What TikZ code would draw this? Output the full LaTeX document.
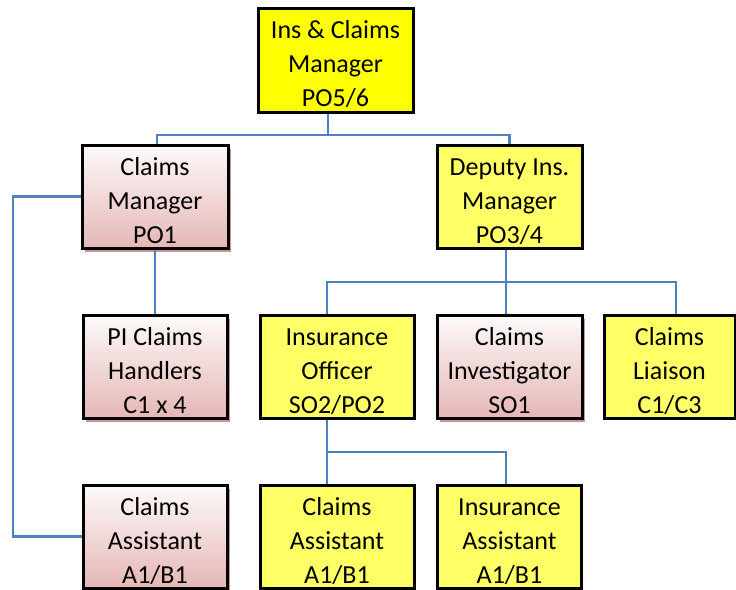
\documentclass[tikz,border=0pt]{standalone}
\usepackage{fontspec}
\setmainfont{Carlito}
\usetikzlibrary{shadows}

\definecolor{ylw}{RGB}{255,255,0}
\definecolor{ylwlight}{RGB}{255,255,102}
\definecolor{pinktop}{RGB}{253,250,250}
\definecolor{pinkbot}{RGB}{229,183,182}
\definecolor{pinkshade}{RGB}{196,150,150}
\definecolor{linkblue}{RGB}{79,129,189}

\newcommand{\topstrut}{\rule{0pt}{27pt}}

\tikzset{
  post/.style={draw=black, line width=3pt, align=center, inner sep=0pt,
    minimum height=103pt, font=\fontsize{26}{34}\selectfont},
  ybox/.style={post, fill=ylwlight,
    drop shadow={shadow xshift=1.5pt, shadow yshift=-1.5pt, fill=black, opacity=1}},
  pbox/.style={post, top color=pinktop, bottom color=pinkbot,
    drop shadow={shadow xshift=3pt, shadow yshift=-4pt, fill=pinkshade, opacity=1}},
  link/.style={draw=linkblue, line width=2.8pt}
}

\begin{document}
\begin{tikzpicture}[x=1pt, y=-1pt]

  \useasboundingbox (0,0) rectangle (736,589);

  % top level
  \node[ybox, fill=ylw, minimum width=155pt, minimum height=104pt] (insmgr) at (335.5,60)
    {\topstrut Ins \& Claims\\ Manager\\ PO5/6};

  % second level
  \node[pbox, minimum width=146pt] (clmmgr) at (155,196.5) {\topstrut Claims\\Manager\\PO1};
  \node[ybox, minimum width=145pt] (depmgr) at (509.5,196.5) {\topstrut Deputy Ins.\\Manager\\PO3/4};

  % third level
  \node[pbox, minimum width=144pt] (pihand) at (155,366.5) {\topstrut PI Claims\\Handlers\\C1 x 4};
  \node[ybox, minimum width=154pt] (insoff) at (337,366.5) {\topstrut Insurance\\Officer\\SO2/PO2};
  \node[pbox, minimum width=145pt] (clminv) at (509.5,366.5) {\topstrut Claims\\Investigator\\SO1};
  \node[ybox, minimum width=131pt] (clmlia) at (669.5,366.5) {\topstrut Claims\\Liaison\\C1/C3};

  % bottom level
  \node[pbox, minimum width=144pt] (clmastl) at (155,536.5) {\topstrut Claims\\Assistant\\A1/B1};
  \node[ybox, minimum width=154pt] (clmastr) at (337,536.5) {\topstrut Claims\\Assistant\\A1/B1};
  \node[ybox, minimum width=144pt] (insast) at (509.5,536.5) {\topstrut Insurance\\Assistant\\A1/B1};

  % connectors
  \coordinate (busa) at (328,135);
  \coordinate (busb) at (506,282);
  \coordinate (busc) at (327,452);
  \coordinate (sidel) at (13,0);

  \draw[link] (insmgr.south -| busa) -- (busa);
  \draw[link] ([xshift=2pt]clmmgr.north) |- (busa) -| (depmgr.north);
  \draw[link] (clmmgr.south) -- (pihand.north);
  \draw[link] (clmmgr.west) -| (sidel |- clmastl.west) -- (clmastl.west);

  \draw[link] (depmgr.south -| busb) -- (busb);
  \draw[link] (insoff.north -| busc) |- (busb) -| (clmlia.north -| 676,0);
  \draw[link] (busb) -- (clminv.north -| busb);

  \draw[link] (insoff.south -| busc) -- (clmastr.north -| busc);
  \draw[link] (busc) -| (insast.north -| busb);

\end{tikzpicture}
\end{document}
